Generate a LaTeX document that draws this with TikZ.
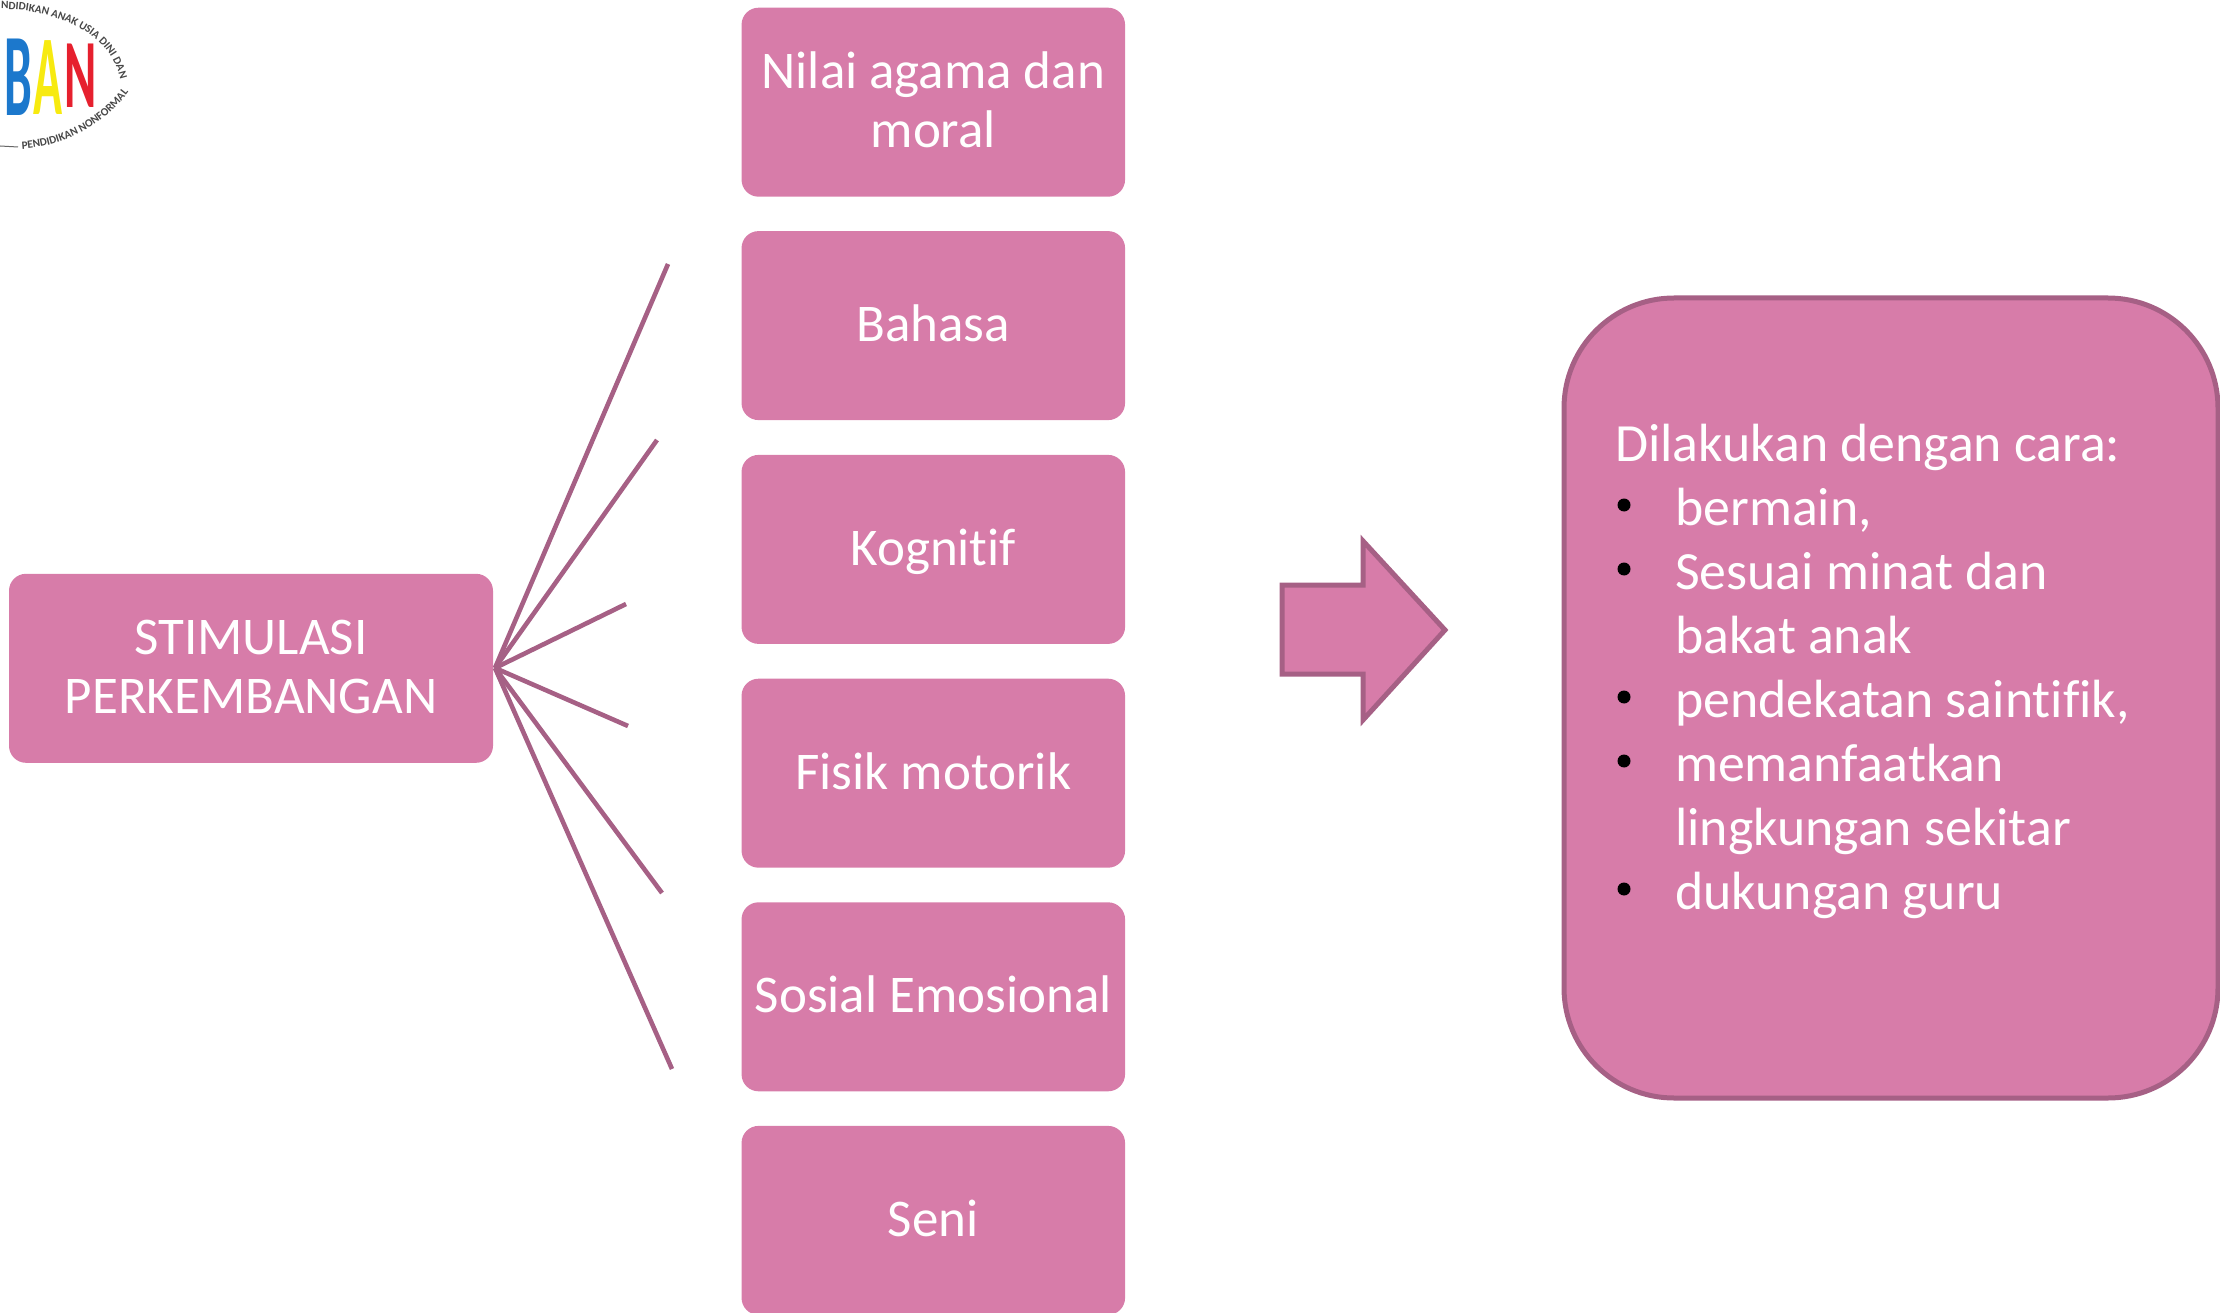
\documentclass[tikz,border=0pt]{standalone}
\usepackage{fontspec}
\setmainfont[Ligatures=NoCommon]{Carlito}
\usetikzlibrary{decorations.text}
\definecolor{pinkfill}{HTML}{D77CA9}
\definecolor{pinkline}{HTML}{A66085}
\definecolor{logoblue}{HTML}{1C78CC}
\definecolor{logoyellow}{HTML}{F7EA10}
\definecolor{logored}{HTML}{E6202E}
\tikzset{
 x=1pt,y=-1pt,
 topicbox/.style={fill=pinkfill,rounded corners=17pt,minimum width=383.5pt,minimum height=189pt,inner sep=0pt,align=center,text=white,font=\fontsize{53pt}{59pt}\selectfont,text height=43pt,text depth=11pt},
 twoline/.style={text height=102pt,text depth=11pt},
 ray/.style={draw=pinkline,line width=4.6pt},
 listline/.style={anchor=base west,inner sep=0pt,text=white,font=\fontsize{53.8pt}{64pt}\selectfont},
}
\newcommand{\logofont}{\fontsize{11.2pt}{11.2pt}\selectfont\bfseries\color{black!72}}
\begin{document}
\begin{tikzpicture}
\useasboundingbox (0,0) rectangle (2220,1313);
\begin{scope}
\clip (0,0) rectangle (2220,1313);
\node[topicbox,twoline] (n1) at (933.3,102.2) {Nilai agama dan\\moral};
\node[topicbox] (n2) at (933.3,325.6) {Bahasa};
\node[topicbox] (n3) at (933.3,549.4) {Kognitif};
\node[topicbox] (n4) at (933.3,773.2) {Fisik motorik};
\node[topicbox] (n5) at (933.3,996.8) {Sosial Emosional};
\node[topicbox] (n6) at (933.3,1220.4) {Seni};
\node[topicbox,twoline,minimum width=484pt] (s) at (251,668.3) {STIMULASI\\PERKEMBANGAN};
\coordinate (hub) at (495,668);
\coordinate (r1) at (668,264);
\coordinate (r2) at (657,440);
\coordinate (r3) at (626,604);
\coordinate (r4) at (628,726);
\coordinate (r5) at (662,893);
\coordinate (r6) at (672,1069);
\foreach \e in {r1,r2,r3,r4,r5,r6} \draw[ray] (hub) -- (\e);
\draw[pinkline,fill=pinkfill,line width=5pt,miter limit=10] (1282,585) -- (1363,585) -- (1363,541) -- (1445,630) -- (1363,720) -- (1363,674) -- (1282,674) -- cycle;
\draw[pinkline,fill=pinkfill,line width=5pt,rounded corners=110pt] (1564,298) rectangle (2218,1098);
\node[listline] (t) at (1615,461.5) {Dilakukan dengan cara:};
\foreach \yy/\tx in {525.5/{bermain,},589.5/{Sesuai minat dan},653.5/{bakat anak},717.5/{pendekatan saintifik,},781.5/{memanfaatkan},845.5/{lingkungan sekitar},909.5/{dukungan guru}}
  \node[listline] at (1675,\yy) {\tx};
\foreach \yy in {505,569,697,761,889} \fill[black] (1624,\yy) circle (6.5pt);
% logo
\node[anchor=base,text=logoblue,font=\fontsize{118pt}{118pt}\selectfont\bfseries,inner sep=0pt,xscale=.42] (lb) at (18,116) {B};
\node[anchor=base,text=logoyellow,font=\fontsize{114pt}{114pt}\selectfont\bfseries,inner sep=0pt,xscale=.42] (la) at (48,115) {A};
\node[anchor=base,text=logored,font=\fontsize{98pt}{98pt}\selectfont\bfseries,inner sep=0pt,xscale=.5] (ln) at (81,108) {N};
\path[postaction={decorate,decoration={text along path,text align=left,text={|\logofont|NDIDIKAN ANAK USIA DINI DAN}}}] (1,9) .. controls (55,9) and (125,35) .. (122,100);
\path[postaction={decorate,decoration={text along path,text align=left,text={|\logofont|PENDIDIKAN NONFORMAL}}}] (22,149) .. controls (65,146) and (110,125) .. (138,78);
\draw[black!60,line width=1pt] (0,146) -- (18,147);
\end{scope}
\end{tikzpicture}
\end{document}
